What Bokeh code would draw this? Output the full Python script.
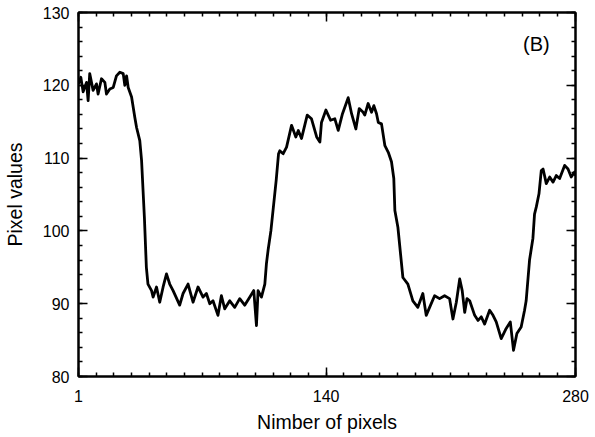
import numpy as np
from bokeh.plotting import figure
from bokeh.models import LinearAxis, FixedTicker, SingleIntervalTicker, Range1d, Label
from bokeh.embed import file_html
from bokeh.resources import INLINE

# ---- data ----
pixel_x = [1, 2.3, 3.6, 5.5, 6.4, 7.3, 9.2, 11.1, 12, 13.9, 15.8, 16.7, 18.6, 20.5,
           22.3, 24.2, 26.1, 27, 28, 28.9, 30.8, 32.6, 33.6, 35.4, 36.4, 38, 39.1, 40,
           42, 42.9, 44.8, 46.6, 48.5, 50.4, 52.2, 54.1, 57.8, 59.7, 62.5, 65.3, 68.1,
           70.9, 72.8, 74.7, 76.5, 79.3, 81.2, 83.1, 85.9, 88.7, 91.5, 94.3, 97.1, 99.4,
           100.9, 101.8, 103.7, 105.6, 106.5, 107.4, 109, 110.5, 112, 113.3, 114, 115.9,
           117.8, 120.6, 123, 124.4, 126.2, 129.4, 131.8, 134.7, 136.5, 137.4, 139.9,
           142.5, 144.9, 146.8, 149.2, 152.4, 154.3, 156.7, 158.6, 160.8, 161.7, 163.6,
           165.5, 166.8, 168.3, 169.3, 171.1, 173, 174.9, 176.7, 178, 178.6, 180.3,
           183.1, 185.9, 188.7, 191.5, 194.3, 196.2, 198.1, 200.9, 203.7, 206.5, 209.3,
           211.2, 213.1, 215, 216.4, 217.8, 219.1, 220.6, 223.4, 225.3, 227.1, 229,
           231.8, 233.7, 235.5, 238.3, 241.1, 243.4, 245.2, 247.1, 249.5, 251.4, 252.3,
           254.2, 256.1, 257, 258, 259.5, 260.8, 261.8, 263.6, 265.5, 267.4, 269.2,
           271.1, 273.9, 275.8, 277.6, 279.5, 280]
pixel_val = [120.2, 121.1, 119.1, 120.4, 117.9, 121.6, 119.3, 120.2, 118.8, 120.9, 120.4,
             118.8, 119.5, 119.7, 121.3, 121.8, 121.6, 120.0, 121.3, 119.7, 118.4, 115.6,
             114.2, 112.4, 109.7, 101.8, 95.0, 92.7, 91.8, 90.9, 92.3, 90.2, 92.3, 94.1,
             92.7, 91.8, 89.8, 91.4, 92.7, 90.2, 92.3, 90.9, 91.4, 90.0, 90.4, 88.4, 91.1,
             89.3, 90.4, 89.5, 90.7, 89.8, 90.9, 91.8, 87.0, 91.8, 90.9, 92.7, 95.5, 97.3,
             100.0, 103.5, 107.0, 110.6, 111.0, 110.6, 111.5, 114.5, 112.9, 113.8, 112.7,
             115.9, 115.4, 112.9, 112.2, 114.9, 116.6, 115.2, 115.4, 113.8, 116.1, 118.3,
             116.1, 114.0, 116.8, 116.3, 115.9, 117.5, 116.3, 117.2, 116.1, 114.9, 114.7,
             111.7, 110.8, 109.5, 107.2, 102.8, 100.5, 93.6, 92.7, 90.4, 89.5, 91.4, 88.4,
             89.5, 91.1, 90.7, 91.1, 90.7, 87.9, 90.2, 93.4, 91.8, 88.8, 90.7, 90.4, 88.4,
             87.7, 88.2, 87.2, 89.1, 88.4, 87.5, 85.2, 86.6, 87.5, 83.6, 85.9, 86.8, 89.1,
             90.4, 96.0, 99.0, 102.3, 103.3, 105.1, 108.3, 108.5, 106.5, 107.4, 106.7,
             107.6, 107.2, 109.0, 108.5, 107.4, 108.1, 107.6]
x_ticks = [1, 140, 280]
y_ticks = [80, 90, 100, 110, 120, 130]
panel_tag = "(B)"

FONT = "Liberation Sans"

p = figure(frame_width=497, frame_height=364, output_backend="svg", toolbar_location=None,
           x_range=Range1d(1, 280), y_range=Range1d(80, 130),
           min_border_left=77, min_border_right=18, min_border_top=12, min_border_bottom=61)
p.grid.visible = False
p.background_fill_color = "white"
p.outline_line_color = "black"
p.outline_line_width = 2

p.line(pixel_x, pixel_val, line_color="black", line_width=2.8, line_join="round")

minor_x = list(np.linspace(1, 140, 15)) + list(np.linspace(140, 280, 15))
xt = FixedTicker(ticks=x_ticks, minor_ticks=minor_x)
yt = FixedTicker(ticks=y_ticks, minor_ticks=list(np.arange(80, 131, 2)))

def style(ax, labels=True):
    ax.axis_line_width = 2
    ax.axis_line_color = "black"
    ax.major_tick_in = 9
    ax.major_tick_out = 0
    ax.minor_tick_in = 4
    ax.minor_tick_out = 0
    ax.major_tick_line_width = 1.5
    ax.minor_tick_line_width = 1.5
    ax.major_tick_line_color = "black"
    ax.minor_tick_line_color = "black"
    ax.major_label_text_font = FONT
    ax.major_label_text_font_size = "16px"
    ax.major_label_text_color = "black"
    if labels:
        ax.axis_label_text_font = FONT
        ax.axis_label_text_font_size = "19.5px"
        ax.axis_label_text_font_style = "normal"
        ax.axis_label_text_color = "black"
    else:
        ax.major_label_standoff = 0

xa = p.xaxis[0]
xa.ticker = xt
style(xa)
xa.axis_label = "Nimber of pixels"
xa.major_label_standoff = 13
xa.axis_label_standoff = 6

ya = p.yaxis[0]
ya.ticker = yt
style(ya)
ya.axis_label = "Pixel values"
ya.major_label_standoff = 9
ya.axis_label_standoff = 14

top = LinearAxis(ticker=xt, major_label_overrides={t: "" for t in x_ticks})
style(top, labels=False)
p.add_layout(top, "above")
right = LinearAxis(ticker=yt, major_label_overrides={t: "" for t in y_ticks})
style(right, labels=False)
p.add_layout(right, "right")

p.add_layout(Label(x=258, y=125.7, text=panel_tag, text_align="center", text_baseline="middle",
                   text_font=FONT, text_font_size="20px", text_color="black"))

open("out.html", "w").write(file_html(p, INLINE))
